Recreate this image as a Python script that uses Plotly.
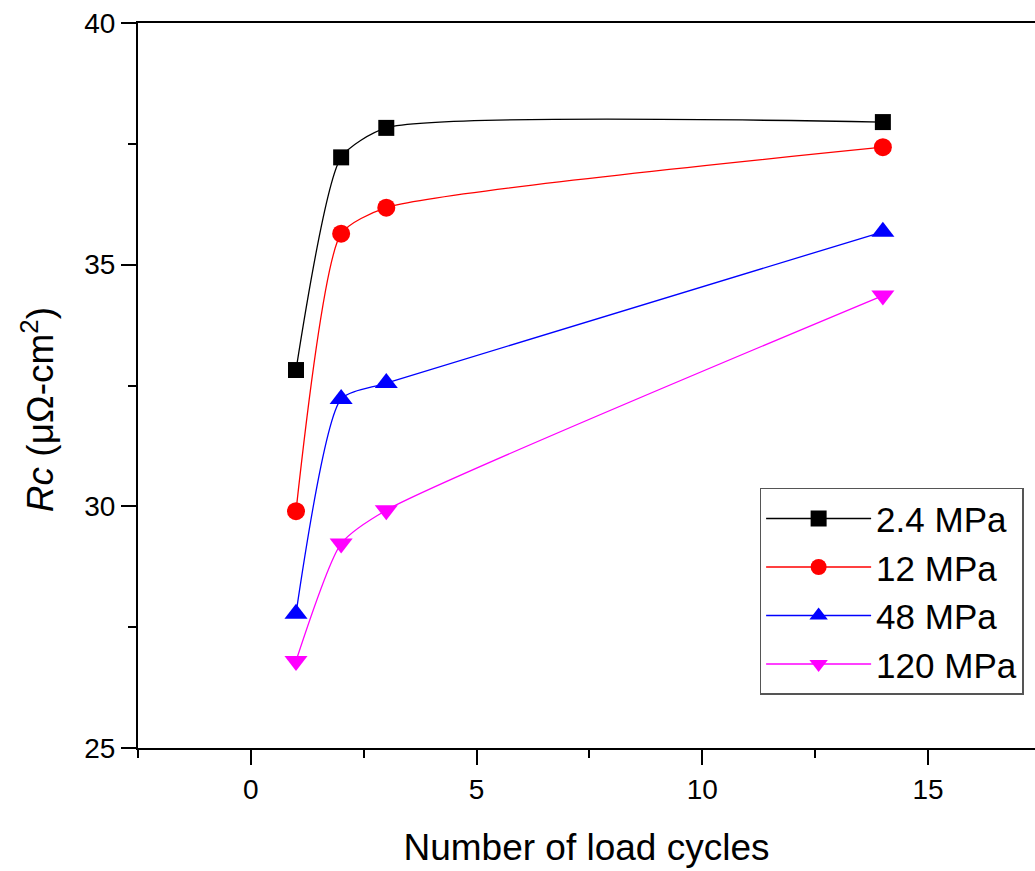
import plotly.graph_objects as go

# Contact resistance vs. number of load cycles at four compaction pressures
cycles = [1, 2, 3, 14]
series_names = ["2.4 MPa", "12 MPa", "48 MPa", "120 MPa"]
rc_2_4 = [32.82, 37.22, 37.83, 37.95]
rc_12 = [29.90, 35.64, 36.18, 37.43]
rc_48 = [27.78, 32.22, 32.55, 35.68]
rc_120 = [26.80, 29.23, 29.92, 34.36]

values = [rc_2_4, rc_12, rc_48, rc_120]
colors = ["#000000", "#ff0000", "#0000ff", "#ff00ff"]
symbols = ["square", "circle", "triangle-up", "triangle-down"]
sizes = [16, 18, 20, 20]

font_family = "Liberation Sans, Arial, sans-serif"

fig = go.Figure()
for name, ys, c, s, sz in zip(series_names, values, colors, symbols, sizes):
    fig.add_trace(go.Scatter(
        x=cycles, y=ys, name=name, mode="lines+markers",
        line=dict(color=c, width=1.3, shape="spline", smoothing=0.6),
        marker=dict(color=c, symbol=s, size=sz, line=dict(width=0)),
    ))

fig.update_layout(
    width=1035, height=871,
    margin=dict(l=138, r=0, t=23, b=123),
    paper_bgcolor="white", plot_bgcolor="white",
    font=dict(family=font_family, color="black", size=28),
    showlegend=True,
    legend=dict(
        x=0.693, y=0.359, xanchor="left", yanchor="top",
        bgcolor="white", bordercolor="#555555", borderwidth=1.5,
        font=dict(size=35, family=font_family),
        itemwidth=105, tracegroupgap=0,
    ),
    annotations=[dict(
        text="<i>Rc</i> (μΩ-cm<sup>2</sup>)",
        xref="paper", yref="paper", x=0, y=0.466,
        xanchor="center", yanchor="middle", xshift=-100,
        textangle=-90, showarrow=False,
        font=dict(size=37, family=font_family, color="black"),
    )],
)

fig.update_xaxes(
    range=[-2.5, 17.37], dtick=5, tick0=0,
    showline=True, linecolor="black", linewidth=2, mirror=True,
    ticks="outside", ticklen=15, tickwidth=2, tickcolor="black",
    minor=dict(dtick=2.5, ticks="outside", ticklen=8, tickwidth=2, tickcolor="black"),
    showgrid=False, zeroline=False,
    tickfont=dict(size=28),
    title=dict(text="Number of load cycles", font=dict(size=37), standoff=31),
)
fig.update_yaxes(
    range=[25, 40], dtick=5, tick0=25,
    showline=True, linecolor="black", linewidth=2, mirror=False,
    ticks="outside", ticklen=15, tickwidth=2, tickcolor="black",
    minor=dict(dtick=2.5, ticks="outside", ticklen=8, tickwidth=2, tickcolor="black"),
    showgrid=False, zeroline=False,
    tickfont=dict(size=28),
)

fig.write_html("out.html")
